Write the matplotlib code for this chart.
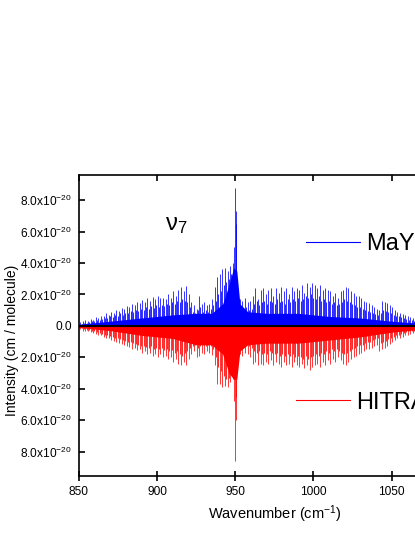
import numpy as np
import matplotlib.pyplot as plt
from matplotlib.lines import Line2D
from matplotlib.ticker import FuncFormatter

plt.rcParams['font.family'] = ['Liberation Sans', 'DejaVu Sans']
plt.rcParams['mathtext.default'] = 'regular'

# strong lines, P side (cm-1)
p_pos = [851.0, 852.7, 854.3, 856.0, 857.6, 859.3, 860.9, 862.6, 864.2, 865.9,
         867.5, 869.2, 870.8, 872.5, 874.1, 875.8, 877.4, 879.1, 880.7, 882.4,
         884.0, 885.7, 887.3, 889.0, 890.6, 892.3, 893.9, 895.6, 897.2, 898.9,
         900.5, 902.2, 903.8, 905.5, 907.1, 908.8, 910.4, 912.1, 913.7, 915.4,
         917.0, 918.7, 920.3, 922.0, 923.6, 925.3, 926.9, 928.6, 930.2, 931.9,
         933.5, 935.2, 936.8, 938.5, 940.1, 941.8, 943.4, 945.1, 946.7, 948.4]
# intensities in 1e-20 cm/molecule
may_p = [0.25, 0.3, 0.35, 0.3, 0.45, 0.4, 0.55, 0.5, 0.65, 0.6,
         0.8, 0.7, 0.9, 0.85, 1.0, 0.95, 1.15, 1.05, 1.25, 1.2,
         1.4, 1.3, 1.5, 1.45, 1.65, 1.55, 1.75, 1.6, 1.85, 1.7,
         1.9, 1.75, 1.8, 1.7, 2.0, 1.8, 2.2, 1.9, 2.3, 2.5,
         2.2, 2.55, 2.0, 1.5, 1.3, 1.1, 1.9, 1.4, 1.5, 1.3,
         1.4, 1.7, 2.5, 3.1, 3.3, 3.65, 3.7, 3.5, 3.8, 4.0]
hitran_p = [0.2, 0.3, 0.3, 0.35, 0.4, 0.45, 0.5, 0.55, 0.6, 0.7,
            0.75, 0.8, 0.9, 0.95, 1.0, 1.1, 1.15, 1.2, 1.3, 1.35,
            1.45, 1.4, 1.55, 1.5, 1.7, 1.6, 1.8, 1.7, 1.9, 1.8,
            2.0, 1.8, 2.0, 1.9, 2.1, 2.0, 2.3, 2.1, 2.4, 2.5,
            2.3, 2.5, 2.1, 1.8, 1.6, 2.0, 1.9, 1.7, 1.8, 1.6,
            1.7, 1.85, 2.5, 3.7, 3.7, 3.9, 3.85, 3.9, 3.6, 3.4]

# weaker lines in between, P side
p_pos2 = [851.9, 853.5, 855.2, 856.8, 858.5, 860.1, 861.8, 863.4, 865.1, 866.7,
          868.4, 870.0, 871.7, 873.3, 875.0, 876.6, 878.3, 879.9, 881.6, 883.2,
          884.9, 886.5, 888.2, 889.8, 891.5, 893.1, 894.8, 896.4, 898.1, 899.7,
          901.4, 903.0, 904.7, 906.3, 908.0, 909.6, 911.3, 912.9, 914.6, 916.2,
          917.9, 919.5, 921.2, 922.8, 924.5, 926.1, 927.8, 929.4, 931.1, 932.7,
          934.4, 936.0, 937.7, 939.3, 941.0, 942.6, 944.3, 945.9, 947.6]
may_p2 = [0.15, 0.2, 0.2, 0.25, 0.3, 0.3, 0.35, 0.4, 0.45, 0.5,
          0.5, 0.6, 0.55, 0.7, 0.65, 0.8, 0.7, 0.85, 0.8, 0.95,
          0.9, 1.0, 0.95, 1.1, 1.0, 1.2, 1.1, 1.25, 1.15, 1.3,
          1.2, 1.35, 1.25, 1.4, 1.3, 1.5, 1.4, 1.6, 1.5, 1.7,
          1.6, 1.5, 1.2, 0.9, 0.8, 1.0, 1.2, 0.9, 1.0, 0.9,
          1.1, 1.3, 1.6, 2.0, 2.2, 2.6, 2.8, 3.0, 3.3]
hitran_p2 = [0.15, 0.2, 0.25, 0.25, 0.3, 0.35, 0.4, 0.45, 0.5, 0.55,
             0.6, 0.65, 0.7, 0.75, 0.8, 0.85, 0.9, 0.95, 1.0, 1.05,
             1.1, 1.15, 1.2, 1.25, 1.3, 1.35, 1.4, 1.3, 1.45, 1.4,
             1.5, 1.4, 1.55, 1.5, 1.6, 1.55, 1.7, 1.6, 1.8, 1.9,
             1.7, 1.6, 1.4, 1.3, 1.2, 1.4, 1.3, 1.2, 1.3, 1.2,
             1.3, 1.5, 2.0, 2.6, 2.9, 3.2, 3.4, 3.3, 3.1]

# Q branch
q_pos = [949.3, 949.8, 950.2, 950.7]
may_q = [5.0, 8.75, 6.5, 7.3]
hitran_q = [4.8, 8.6, 6.0, 4.5]

# strong lines, R side
r_pos = [951.3, 953.0, 954.6, 956.3, 957.9, 959.6, 961.2, 962.9, 964.5, 966.2,
         967.8, 969.5, 971.1, 972.8, 974.4, 976.1, 977.7, 979.4, 981.0, 982.7,
         984.3, 986.0, 987.6, 989.3, 990.9, 992.6, 994.2, 995.9, 997.5, 999.2,
         1000.8, 1002.5, 1004.1, 1005.8, 1007.4, 1009.1, 1010.7, 1012.4, 1014.0, 1015.7,
         1017.3, 1019.0, 1020.6, 1022.3, 1023.9, 1025.6, 1027.2, 1028.9, 1030.5, 1032.2,
         1033.8, 1035.5, 1037.1, 1038.8, 1040.4, 1042.1, 1043.7, 1045.4, 1047.0, 1048.7,
         1050.3, 1052.0, 1053.6, 1055.3, 1056.9, 1058.6, 1060.2, 1061.9, 1063.5, 1065.2,
         1066.8, 1068.5, 1070.1, 1071.8, 1073.4, 1075.1, 1076.7, 1078.4, 1080.0, 1081.7]
may_r = [1.9, 1.7, 1.6, 1.8, 1.5, 1.6, 1.9, 2.4, 1.7, 2.3,
         2.4, 2.0, 2.3, 2.4, 1.9, 2.4, 2.1, 2.5, 2.2, 2.4,
         2.0, 2.5, 2.2, 2.4, 2.3, 2.6, 2.1, 2.7, 2.5, 2.7,
         2.6, 2.4, 2.6, 2.3, 2.4, 2.3, 2.2, 1.9, 2.1, 1.8,
         2.2, 2.3, 2.5, 2.4, 2.2, 2.1, 1.9, 1.9, 1.75, 1.6,
         1.55, 1.45, 1.35, 1.2, 1.1, 1.0, 1.6, 1.55, 1.45, 1.3,
         1.2, 1.0, 0.9, 0.85, 0.75, 0.7, 0.6, 0.55, 0.5, 0.45,
         0.4, 0.35, 0.3, 0.3, 0.25, 0.2, 0.2, 0.15, 0.15, 0.1]
hitran_r = [1.9, 1.8, 1.9, 1.7, 1.8, 2.0, 2.4, 2.3, 2.5, 2.4,
            2.5, 2.3, 2.4, 2.2, 2.5, 2.3, 2.4, 2.6, 2.3, 2.5,
            2.4, 2.6, 2.3, 2.5, 2.6, 2.4, 2.7, 2.5, 2.8, 2.6,
            2.5, 2.4, 2.6, 2.3, 2.5, 2.2, 2.4, 2.1, 2.3, 2.0,
            2.2, 2.4, 2.5, 2.3, 2.1, 2.0, 1.9, 1.8, 1.7, 1.6,
            1.5, 1.45, 1.4, 1.3, 1.2, 1.6, 1.5, 1.4, 1.3, 1.15,
            1.0, 0.9, 0.8, 0.75, 0.7, 0.6, 0.55, 0.5, 0.45, 0.4,
            0.35, 0.3, 0.3, 0.25, 0.2, 0.2, 0.15, 0.15, 0.1, 0.1]

# weaker lines in between, R side
r_pos2 = [952.2, 953.8, 955.5, 957.1, 958.8, 960.4, 962.1, 963.7, 965.4, 967.0,
          968.7, 970.3, 972.0, 973.6, 975.3, 976.9, 978.6, 980.2, 981.9, 983.5,
          985.2, 986.8, 988.5, 990.1, 991.8, 993.4, 995.1, 996.7, 998.4, 1000.0,
          1001.7, 1003.3, 1005.0, 1006.6, 1008.3, 1009.9, 1011.6, 1013.2, 1014.9, 1016.5,
          1018.2, 1019.8, 1021.5, 1023.1, 1024.8, 1026.4, 1028.1, 1029.7, 1031.4, 1033.0,
          1034.7, 1036.3, 1038.0, 1039.6, 1041.3, 1042.9, 1044.6, 1046.2, 1047.9, 1049.5,
          1051.2, 1052.8, 1054.5, 1056.1, 1057.8, 1059.4, 1061.1, 1062.7, 1064.4, 1066.0]
may_r2 = [1.3, 1.2, 1.1, 1.2, 1.0, 1.1, 1.4, 1.6, 1.3, 1.5,
          1.6, 1.4, 1.6, 1.5, 1.4, 1.7, 1.5, 1.6, 1.4, 1.7,
          1.5, 1.7, 1.6, 1.8, 1.6, 1.7, 1.9, 1.8, 2.0, 1.8,
          1.7, 1.9, 1.6, 1.7, 1.5, 1.6, 1.4, 1.5, 1.3, 1.4,
          1.5, 1.7, 1.6, 1.5, 1.4, 1.3, 1.2, 1.2, 1.1, 1.0,
          0.95, 0.9, 0.85, 0.75, 0.7, 0.8, 1.0, 0.95, 0.9, 0.8,
          0.7, 0.65, 0.6, 0.55, 0.5, 0.45, 0.4, 0.35, 0.3, 0.3]
hitran_r2 = [1.4, 1.3, 1.3, 1.2, 1.3, 1.4, 1.6, 1.7, 1.6, 1.8,
             1.7, 1.8, 1.6, 1.7, 1.8, 1.7, 1.9, 1.8, 1.9, 1.8,
             1.9, 1.8, 2.0, 1.9, 2.0, 2.1, 1.9, 2.1, 2.0, 1.9,
             1.8, 1.9, 1.7, 1.8, 1.6, 1.7, 1.5, 1.6, 1.5, 1.6,
             1.7, 1.8, 1.7, 1.6, 1.5, 1.4, 1.3, 1.2, 1.2, 1.1,
             1.0, 1.0, 0.9, 0.85, 0.8, 1.1, 1.0, 0.95, 0.85, 0.75,
             0.7, 0.6, 0.55, 0.5, 0.45, 0.4, 0.35, 0.3, 0.3, 0.25]

# dense weak-line background (envelope)
bg_pos = [850, 870, 890, 910, 925, 935, 942, 946, 949, 951, 953, 958, 970, 990, 1010, 1030, 1050, 1070, 1100]
may_bg = [0.1, 0.3, 0.5, 0.7, 0.8, 0.8, 1.4, 2.6, 3.7, 3.5, 1.4, 0.9, 0.8, 0.8, 0.6, 0.5, 0.3, 0.15, 0.05]
hitran_bg = [0.1, 0.3, 0.6, 0.8, 1.2, 1.2, 1.8, 3.0, 3.4, 3.4, 1.6, 1.2, 1.1, 1.1, 0.9, 0.7, 0.4, 0.2, 0.05]

scale = 1e-20
pos = np.array(p_pos + q_pos + r_pos)
may = np.array(may_p + may_q + may_r) * scale
hitran = np.array(hitran_p + hitran_q + hitran_r) * scale
pos2 = np.array(p_pos2 + r_pos2)
may2 = np.array(may_p2 + may_r2) * scale
hitran2 = np.array(hitran_p2 + hitran_r2) * scale

fig = plt.figure(figsize=(4.15, 5.37), dpi=100)
ax = fig.add_axes([0.1896, 0.1136, 0.943, 0.5605])

ax.fill_between(bg_pos, 0, np.array(may_bg) * scale, color='b', lw=0)
ax.fill_between(bg_pos, 0, -np.array(hitran_bg) * scale, color='r', lw=0)
ax.vlines(pos2, 0, may2, color='b', lw=0.6)
ax.vlines(pos2, 0, -hitran2, color='r', lw=0.6)
ax.vlines(pos, 0, may, color='b', lw=0.55)
ax.vlines(pos, 0, -hitran, color='r', lw=0.55)
ax.axhline(0, color='k', lw=1.5)

ax.set_xlim(850, 1100)
ax.set_ylim(-9.55e-20, 9.6e-20)
ax.set_xticks([850, 900, 950, 1000, 1050])
ax.set_yticks(np.arange(-8, 9, 2) * scale)


def ylab(v, p):
    m = abs(v) / scale
    if m < 1e-6:
        return '0.0'
    return '%.1fx10$^{-20}$' % m


ax.yaxis.set_major_formatter(FuncFormatter(ylab))
ax.tick_params(axis='x', labelsize=8.6, direction='inout', length=7.2, width=1.2, pad=3.5)
ax.tick_params(axis='y', labelsize=8.6, direction='in', length=4.3, width=1.2, pad=5)
for sp in ['left', 'bottom', 'top']:
    ax.spines[sp].set_linewidth(1.2)
ax.spines['right'].set_visible(False)
ax.tick_params(axis='x', top=True, labeltop=False)
for t in ax.xaxis.get_major_ticks():
    t.tick2line.set_marker(3)
    t.tick2line.set_markersize(4.3)

ax.set_xlabel('Wavenumber (cm$^{-1}$)', fontsize=10.5)
ax.set_ylabel('Intensity (cm / molecule)', fontsize=10)
ax.yaxis.set_label_coords(-0.152, 0.449)

ax.text(0.25, 0.835, r'$\nu_7$', transform=ax.transAxes, fontsize=17,
        math_fontfamily='stix', ha='center', va='center')

leg1 = ax.legend([Line2D([], [], color='b', lw=0.8)], ['MaY'], loc='center left',
                 bbox_to_anchor=(0.5806, 0.771), frameon=False, fontsize=17,
                 handlelength=2.3, handletextpad=0.25, borderpad=0, borderaxespad=0)
ax.add_artist(leg1)
ax.legend([Line2D([], [], color='r', lw=0.8)], ['HITRAN'], loc='center left',
          bbox_to_anchor=(0.555, 0.2435), frameon=False, fontsize=17,
          handlelength=2.3, handletextpad=0.25, borderpad=0, borderaxespad=0)

fig.savefig('out.png', dpi=100)
